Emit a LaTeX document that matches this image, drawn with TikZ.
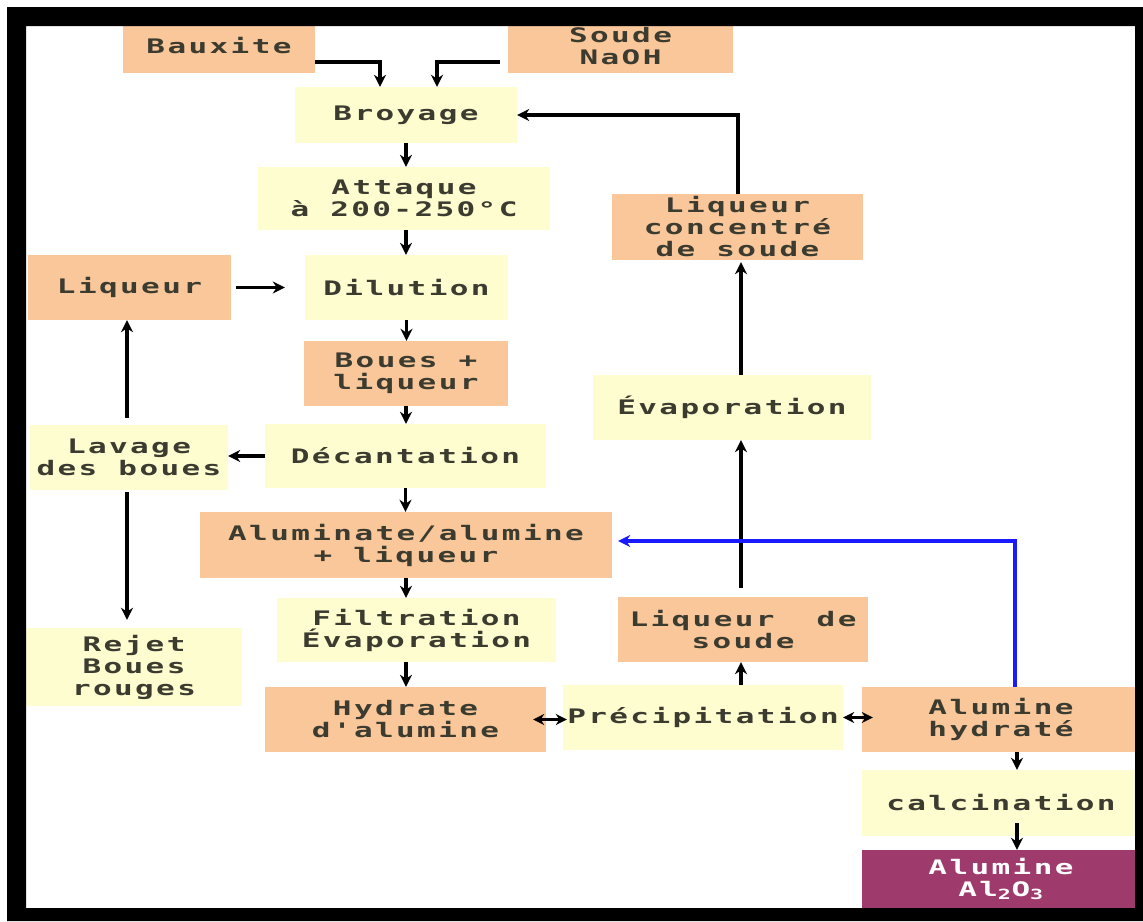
\documentclass[tikz,border=0pt]{standalone}
\usepackage{fontspec}
\usetikzlibrary{arrows.meta}
\newfontfamily\dfont{DejaVu Sans Mono}[FakeStretch=1.55,LetterSpace=12]
\definecolor{peach}{HTML}{F9C79A}
\definecolor{cream}{HTML}{FEFDD0}
\definecolor{plum}{HTML}{9E3A6C}
\definecolor{ink}{HTML}{3B3B30}
\definecolor{bluearr}{HTML}{1A1AFF}
\tikzset{
  box/.style={inner sep=0pt, align=center, text=ink,
    font=\dfont\bfseries\fontsize{20}{22}\selectfont},
  pbox/.style={box, fill=peach},
  cbox/.style={box, fill=cream},
  arr/.style={line width=3.4pt, -{Stealth[length=12pt,width=12pt]}},
  darr/.style={line width=3.4pt, {Stealth[length=11pt,width=11pt]}-{Stealth[length=11pt,width=11pt]}},
}
\begin{document}
\begin{tikzpicture}[x=1pt,y=-1pt]
\useasboundingbox (0,0) rectangle (1143,921);
\fill[white] (0,0) rectangle (1143,921);
% nodes
\node[pbox, minimum width=192pt, minimum height=54pt] (bauxite) at (219,46) {Bauxite};
\node[pbox, minimum width=225pt, minimum height=54pt] (soude) at (620.5,46) {Soude\\NaOH};
\node[cbox, minimum width=222pt, minimum height=56pt] (broyage) at (406,115) {Broyage};
\node[cbox, minimum width=292pt, minimum height=63pt] (attaque) at (404,198.5) {Attaque\\à 200-250°C};
\node[pbox, minimum width=203pt, minimum height=65pt] (liqL) at (129.5,287.5) {Liqueur};
\node[cbox, minimum width=203pt, minimum height=65pt] (dilution) at (406.5,287.5) {Dilution};
\node[pbox, minimum width=204pt, minimum height=65pt] (boues) at (406,373.5) {Boues +\\liqueur};
\node[cbox, minimum width=198pt, minimum height=65pt] (lavage) at (129,457.5) {Lavage\\des boues};
\node[cbox, minimum width=281pt, minimum height=64pt] (decant) at (405.5,456) {Décantation};
\node[pbox, minimum width=412pt, minimum height=66pt] (alumin) at (406,545) {Aluminate/alumine\\+ liqueur};
\node[cbox, minimum width=279pt, minimum height=64pt] (filtr) at (416.5,630) {Filtration\\Évaporation};
\node[cbox, minimum width=216pt, minimum height=78pt] (rejet) at (134,667) {Rejet\\Boues\\rouges};
\node[pbox, minimum width=281pt, minimum height=65pt] (hydrate) at (405.5,719.5) {Hydrate\\d'alumine};
\node[cbox, minimum width=280pt, minimum height=65pt] (precip) at (703,717.5) {Précipitation};
\node[pbox, minimum width=278pt, minimum height=65pt] (alhyd) at (1001,719.5) {Alumine\\hydraté};
\node[cbox, minimum width=278pt, minimum height=66pt] (calc) at (1001,803) {calcination};
\node[box, fill=plum, text=white, minimum width=278pt, minimum height=58pt] (alox) at (1001,879) {Alumine\\Al\textsubscript{2}O\textsubscript{3}};
\node[pbox, minimum width=250pt, minimum height=65pt] (liqsoude) at (743,629.5) {Liqueur\ \ de\\soude};
\node[cbox, minimum width=278pt, minimum height=65pt] (evap) at (732,407.5) {Évaporation};
\node[pbox, minimum width=251pt, minimum height=66pt] (liqconc) at (737.5,227) {Liqueur\\concentré\\de soude};
% helper columns
\coordinate (rc) at (741,0);
\coordinate (rc2) at (738,0);
\coordinate (bc) at (1015,0);
\coordinate (cc) at (1017,0);
% connectors
\draw[arr] ([yshift=-16pt]bauxite.east) -| ([xshift=-26pt]broyage.north);
\draw[arr,shorten <=8pt] ([yshift=-16pt]soude.west) -| ([xshift=31pt]broyage.north);
\draw[arr] (broyage.south) -- (broyage.south |- attaque.north);
\draw[arr] ([xshift=2pt]attaque.south) -- ([xshift=2pt]attaque.south |- dilution.north);
\draw[arr,shorten <=5pt,shorten >=20pt] (liqL.east) -- (liqL.east -| dilution.west);
\draw[arr] (dilution.south) -- (dilution.south |- boues.north);
\draw[arr] (boues.south) -- (boues.south |- decant.north);
\draw[arr] (decant.west) -- (decant.west -| lavage.east);
\draw[arr,shorten <=7pt] ([xshift=-2pt]lavage.north) -- ([xshift=-2pt]lavage.north |- liqL.south);
\draw[arr,shorten <=2pt,shorten >=8pt] ([xshift=-2pt]lavage.south) -- ([xshift=-2pt]lavage.south |- rejet.north);
\draw[arr] (decant.south) -- (decant.south |- alumin.north);
\draw[arr] (alumin.south) -- (alumin.south |- filtr.north);
\draw[arr] (alumin.south |- filtr.south) -- (alumin.south |- hydrate.north);
\draw[darr,shorten <=-13pt,shorten >=-4pt] (hydrate.east) -- (hydrate.east -| precip.west);
\draw[darr,shorten >=-11pt] (precip.east) -- (precip.east -| alhyd.west);
\draw[arr] (precip.north -| rc) -- (liqsoude.south -| rc);
\draw[arr,shorten <=9pt] (liqsoude.north -| rc) -- (evap.south -| rc);
\draw[arr,shorten >=2pt] (evap.north -| rc) -- (liqconc.south -| rc);
\draw[arr] (liqconc.north -| rc2) |- (broyage.east);
\draw[arr,bluearr,shorten >=6pt] (alhyd.north -| bc) |- ([yshift=4pt]alumin.east);
\draw[arr] (alhyd.south -| cc) -- (calc.north -| cc);
\draw[arr,shorten <=-13pt] (calc.south -| cc) -- (alox.north -| cc);
% frame
\fill[black,even odd rule] (7,7) rectangle (1143,921) (26,26) rectangle (1135,908);
\end{tikzpicture}
\end{document}
